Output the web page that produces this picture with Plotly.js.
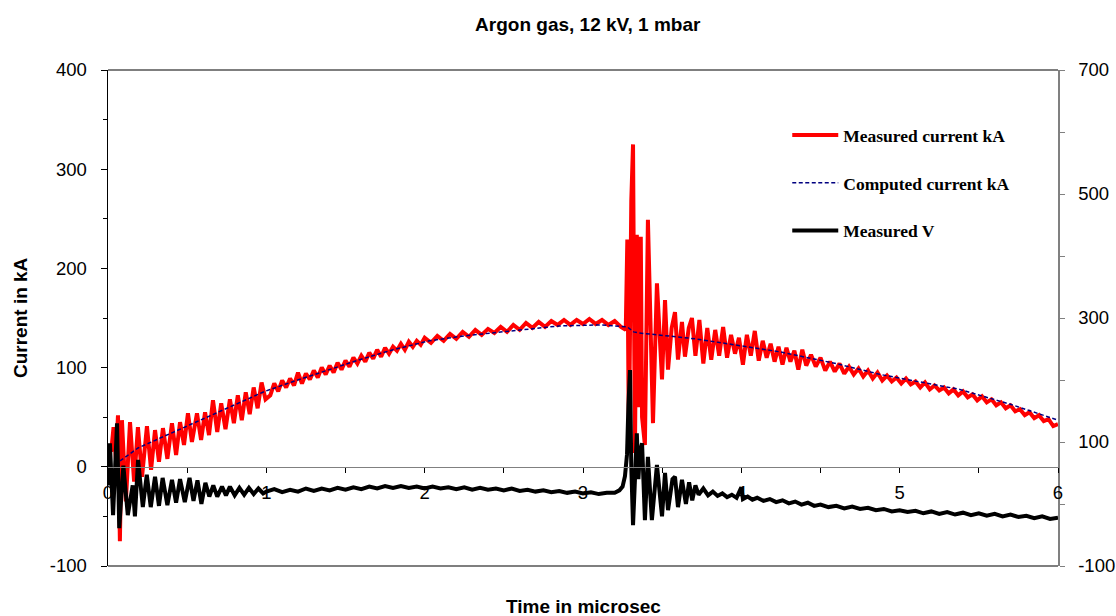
<!DOCTYPE html>
<html>
<head>
<meta charset="utf-8">
<script src="https://cdn.plot.ly/plotly-3.0.1.min.js"></script>
<style>html,body{margin:0;padding:0;background:#fff;}#chart{width:1116px;height:616px;}</style>
</head>
<body>
<div id="chart"></div>
<script>
// Measured current (kA), left axis
const measT = [0.02,0.035,0.05,0.063,0.075,0.088,0.113,0.139,0.165,0.189,0.215,0.246,0.272,0.297,0.322,0.347,0.375,0.404,0.43,0.455,0.48,0.505,0.53,0.562,0.588,0.613,0.638,0.663,0.69,0.715,0.742,0.77,0.795,0.82,0.845,0.87,0.895,0.92,0.945,0.97,0.995,
1.025,1.05,1.075,1.10,1.125,1.15,1.175,1.20,1.225,1.25,1.275,1.30,1.325,1.35,1.375,1.40,1.425,1.45,1.475,1.50,1.525,1.55,1.575,1.60,1.625,1.65,1.675,1.70,1.725,1.75,1.775,1.80,1.825,1.85,1.875,1.90,1.925,1.95,1.975,2.00,2.04,2.08,2.12,2.16,2.20,2.24,2.28,2.32,2.36,2.40,2.44,2.48,2.52,2.56,2.60,2.64,2.68,2.72,2.76,2.80,2.84,2.88,2.92,2.96,3.00,3.04,3.08,3.12,3.16,3.20,3.24,3.27,
3.28,3.29,3.305,3.316,3.328,3.34,3.355,3.365,3.373,3.391,3.41,3.442,3.467,3.499,3.518,3.537,3.56,3.581,3.6,3.625,3.644,3.668,3.688,3.71,
3.735,3.76,3.785,3.81,3.835,3.86,3.885,3.91,3.935,3.96,3.985,4.01,4.035,4.06,4.085,4.11,4.135,4.16,4.185,4.21,4.235,4.26,4.285,4.31,4.335,4.36,4.385,4.41,4.44,4.47,4.50,4.53,4.56,4.59,4.62,4.65,4.68,4.71,4.74,4.77,4.80,4.83,4.86,4.89,
4.92,4.95,4.98,5.01,5.04,5.07,5.10,5.13,5.16,5.19,5.22,5.25,5.28,5.31,5.34,5.37,5.40,5.43,5.46,5.49,5.52,5.55,5.58,5.61,5.64,5.67,5.70,5.73,5.76,5.79,5.82,5.85,5.88,5.91,5.94,5.97,6.0];
const measI = [15,40,8,52,-75,47,-35,45,-15,40,-10,41,-3,37,5,39,8,44,12,45,22,54,25,54,27,55,32,67,35,64,38,68,44,72,47,75,53,80,59,85,68,
72,84,76,87,80,89,82,95,84,94,88,97,90,100,93,102,95,105,98,107,101,110,104,112,106,115,109,118,111,120,114,121,117,124,118,126,121,127,123,130,125,132,127,134,129,136,131,138,133,139,135,141,136,143,138,145,140,146,141,147,143,148,143,148,144,149,144,148,143,147,141,138,
229,24,268,325,14,234,60,232,50,22,249,44,185,88,168,98,140,156,108,146,111,140,150,112,
148,104,140,108,138,112,141,110,133,114,130,103,133,112,137,107,127,110,124,106,121,103,120,106,117,98,118,102,113,101,110,97,106,96,104,94,101,93,99,91,97,89,95,87,
92,86,90,84,89,83,86,80,85,78,82,77,80,74,78,72,76,70,73,67,71,65,68,62,65,59,62,56,58,52,55,49,52,46,48,41,43];

// Computed current (kA), left axis
const compT = [0.076,0.19,0.40,0.61,0.82,0.99,1.17,1.38,1.59,1.80,2.03,2.25,2.48,2.70,2.85,3.11,3.23,3.28,3.32,3.35,3.71,4.24,4.60,4.88,5.38,5.70,6.0];
const compI = [6,19,34,49,64,76,86,97,108,118,127,132,136,140,142,143,142,141,136,135,129,116,104,93,78,63,47];

// Measured V, right axis
const voltT = [0.000,0.012,0.032,0.057,0.071,0.097,0.125,0.156,0.17,0.19,0.22,0.245,0.27,0.297,0.322,0.345,0.375,0.404,0.43,0.455,0.485,0.515,0.54,0.565,0.59,0.615,0.64,0.665,0.69,0.72,0.745,0.77,0.80,0.83,0.86,0.89,0.92,0.95,0.98,
1.0,1.05,1.1,1.15,1.2,1.25,1.3,1.35,1.4,1.45,1.5,1.55,1.6,1.65,1.7,1.75,1.8,1.85,1.9,1.95,2.0,2.05,2.1,2.15,2.2,2.25,2.3,2.35,2.4,2.45,2.5,2.55,2.6,2.65,2.7,2.75,2.8,2.85,2.9,2.95,3.0,3.05,3.1,3.15,3.2,3.23,3.25,3.265,3.278,3.287,3.297,
3.305,3.316,3.325,3.34,3.35,3.36,3.373,3.391,3.41,3.435,3.467,3.499,3.518,3.537,3.565,3.581,3.6,3.625,3.65,3.67,3.69,3.71,3.73,3.76,3.79,
3.82,3.85,3.88,3.91,3.94,3.97,4.0,4.01,4.04,4.07,4.10,4.14,4.18,4.22,4.26,4.30,4.34,4.38,4.42,4.46,4.50,4.55,4.60,4.65,4.70,4.75,4.80,4.85,4.90,4.95,5.0,5.05,5.10,5.15,5.2,5.25,5.3,5.35,5.4,5.45,5.5,5.55,5.6,5.65,5.7,5.75,5.8,5.85,5.9,5.95,6.0];
const voltV = [30,98,-18,130,-39,62,-18,30,-20,71,-5,47,-5,44,-3,42,-2,39,2,40,3,42,5,38,0,34,12,30,12,28,14,28,14,26,15,26,16,25,17,
20,24,19,23,20,25,21,25,22,26,23,27,24,28,25,29,26,29,26,28,25,28,25,27,24,27,23,26,23,25,22,25,21,23,20,22,19,21,18,20,17,19,16,18,18,22,28,45,80,160,216,
60,-34,20,114,40,85,98,-26,76,-26,63,-20,50,-10,40,44,-5,39,0,35,6,30,15,25,14,
20,13,17,11,15,10,27,8,12,7,10,5,8,3,6,1,4,-1,2,-3,-1,-5,-3,-7,-4,-8,-6,-10,-8,-12,-10,-13,-11,-15,-12,-16,-13,-17,-14,-18,-15,-19,-16,-20,-17,-21,-19,-23,-20,-24,-22];

const leftTicks = [-100,0,100,200,300,400];
const leftLabels = ['-100','0','100','200','300','400'];
const rightTicks = [-100,0,100,200,300,400,500,600,700];
const rightLabels = ['-100','','100','','300','','500','','700'];
const xTicks = [0,0.5,1,1.5,2,2.5,3,3.5,4,4.5,5,5.5,6];
const xLabels = ['0','','1','','2','','3','','4','','5','','6'];

const ARIAL = 'Arial, Liberation Sans, sans-serif';
const tickFont = {family:ARIAL, size:18.5, color:'#000'};
const titleFont = {family:ARIAL, size:19, color:'#000'};

const traces = [
  {x:measT, y:measI, type:'scatter', mode:'lines', name:'Measured current kA', legendgroup:'a',
   line:{color:'#ff0000', width:4}, yaxis:'y'},
  {x:compT, y:compI, type:'scatter', mode:'lines', name:'Computed current kA', legendgroup:'b',
   line:{color:'#000080', width:1.5, dash:'4px,2.5px'}, yaxis:'y'},
  {x:voltT, y:voltV, type:'scatter', mode:'lines', name:'Measured V', legendgroup:'c',
   line:{color:'#000000', width:4}, yaxis:'y2'}
];

const layout = {
  width:1116, height:616,
  margin:{l:108, r:58, t:70, b:50},
  paper_bgcolor:'#fff', plot_bgcolor:'#fff',
  title:{text:'<b>Argon gas, 12 kV, 1 mbar</b>', font:titleFont,
         x:0.505, xref:'paper', y:1-24/616, yref:'container', yanchor:'middle'},
  xaxis:{range:[0,6], anchor:'free', position:0.2, showgrid:false, zeroline:false,
         showline:true, linecolor:'#808080', linewidth:1.5,
         tickmode:'array', tickvals:xTicks, ticktext:xLabels, ticks:'outside', ticklen:5, tickcolor:'#000', tickwidth:1,
         ticklabelstandoff:3, tickfont:tickFont},
  yaxis:{range:[-100,400], showgrid:false, zeroline:false, showline:true, linecolor:'#000', linewidth:1.5,
         tickmode:'array', tickvals:leftTicks, ticktext:leftLabels,
         ticks:'outside', ticklen:6, tickcolor:'#000', ticklabelstandoff:10, tickfont:tickFont,
         minor:{tickmode:'linear', tick0:0, dtick:50, ticks:'outside', ticklen:4, tickcolor:'#000'}},
  yaxis2:{range:[-100,700], overlaying:'y', side:'right', anchor:'x', showgrid:false, zeroline:false,
          showline:true, linecolor:'#808080', linewidth:1.5,
          tickmode:'array', tickvals:rightTicks, ticktext:rightLabels,
          ticks:'outside', ticklen:5, tickcolor:'#808080', ticklabelstandoff:10, tickfont:tickFont},
  showlegend:true,
  legend:{x:0.715, y:0.905, xanchor:'left', yanchor:'top', bgcolor:'rgba(0,0,0,0)',
          font:{family:'Times New Roman, Liberation Serif, serif', size:17.5, weight:700, color:'#000'},
          traceorder:'grouped', tracegroupgap:22, itemwidth:46},
  shapes:[
    {type:'line', xref:'paper', yref:'paper', x0:0, x1:1, y0:1, y1:1, line:{color:'#000', width:1.2}},
    {type:'line', xref:'paper', yref:'paper', x0:0, x1:1, y0:0, y1:0, line:{color:'#000', width:1.2}}
  ],
  annotations:[
    {text:'<b>Current in kA</b>', xref:'paper', yref:'paper', x:(20-108)/950, y:0.5, textangle:-90,
     showarrow:false, xanchor:'center', yanchor:'middle', font:titleFont},
    {text:'<b>Time in microsec</b>', xref:'paper', yref:'paper', x:0.5, y:(566-606)/496,
     showarrow:false, xanchor:'center', yanchor:'middle', font:titleFont}
  ]
};

Plotly.newPlot('chart', traces, layout, {staticPlot:true, displayModeBar:false});
</script>
</body>
</html>
